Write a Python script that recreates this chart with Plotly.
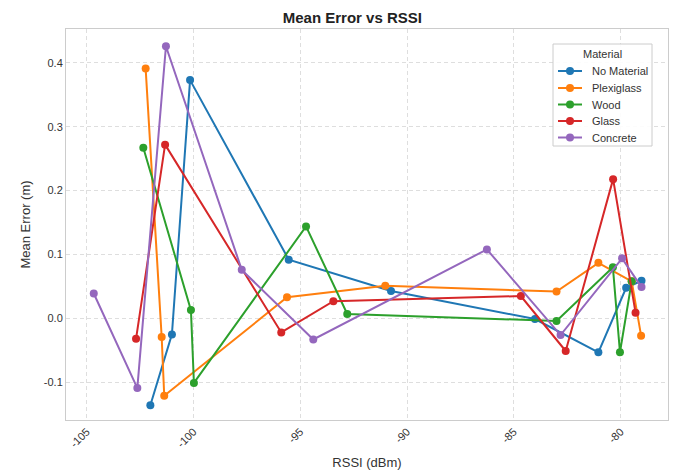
import plotly.graph_objects as go

materials = ["No Material", "Plexiglass", "Wood", "Glass", "Concrete"]
colors = ["#1f77b4", "#ff7f0e", "#2ca02c", "#d62728", "#9467bd"]

rssi_no_material = [-102.02, -101.01, -100.16, -95.54, -90.75, -84.01, -81.04, -79.74, -79.02]
err_no_material = [-0.136, -0.025, 0.373, 0.092, 0.043, -0.001, -0.053, 0.048, 0.059]

rssi_plexiglass = [-102.24, -101.49, -101.37, -95.62, -91.02, -83.00, -81.04, -79.48, -79.04]
err_plexiglass = [0.391, -0.029, -0.121, 0.033, 0.051, 0.042, 0.087, 0.058, -0.027]

rssi_wood = [-102.35, -100.12, -99.98, -94.73, -92.80, -83.00, -80.36, -80.03, -79.48]
err_wood = [0.267, 0.013, -0.101, 0.144, 0.007, -0.004, 0.080, -0.053, 0.058]

rssi_glass = [-102.69, -101.33, -95.89, -93.45, -84.67, -82.57, -80.35, -79.30]
err_glass = [-0.032, 0.272, -0.022, 0.027, 0.035, -0.051, 0.218, 0.009]

rssi_concrete = [-104.67, -102.63, -101.29, -97.74, -94.39, -86.26, -82.81, -79.93, -79.02]
err_concrete = [0.039, -0.109, 0.426, 0.076, -0.033, 0.108, -0.026, 0.094, 0.049]

x_ticks = [-105, -100, -95, -90, -85, -80]
y_ticks = [-0.1, 0.0, 0.1, 0.2, 0.3, 0.4]

series = [
    (rssi_no_material, err_no_material),
    (rssi_plexiglass, err_plexiglass),
    (rssi_wood, err_wood),
    (rssi_glass, err_glass),
    (rssi_concrete, err_concrete),
]

W, H = 675, 472
ML, MR, MT, MB = 66, 7, 29, 52
PW, PH = W - ML - MR, H - MT - MB


def px_x(px):
    return (px - ML) / PW


def px_y(py):
    return (H - MB - py) / PH


fig = go.Figure()
for name, color, (xs, ys) in zip(materials, colors, series):
    fig.add_trace(go.Scatter(
        x=xs, y=ys, mode="lines+markers", name=name,
        line=dict(color=color, width=2),
        marker=dict(color=color, size=8),
        showlegend=False,
    ))

font_family = "Liberation Sans, Arial, sans-serif"
axis_common = dict(
    showgrid=True, gridcolor="#dedede", griddash="4px,3px", gridwidth=1,
    showline=True, linecolor="#cccccc", linewidth=1, mirror=True,
    zeroline=False, ticks="", automargin=False,
    tickfont=dict(size=11, color="#333333", family=font_family),
)

# custom legend (compact, matplotlib-like)
shapes = [dict(type="rect", xref="paper", yref="paper",
               x0=px_x(553), x1=px_x(652), y0=px_y(146), y1=px_y(44),
               line=dict(color="#cccccc", width=1), fillcolor="rgba(255,255,255,0.9)", layer="above")]
annotations = [dict(text="Material", xref="paper", yref="paper", x=px_x(602.5), y=px_y(54),
                    xanchor="center", yanchor="middle", showarrow=False,
                    font=dict(size=11, color="#333333", family=font_family))]
item_y = [71, 88, 104.5, 121, 137.5]
for name, color, iy in zip(materials, colors, item_y):
    shapes.append(dict(type="line", xref="paper", yref="paper",
                       x0=px_x(558), x1=px_x(582), y0=px_y(iy), y1=px_y(iy),
                       line=dict(color=color, width=2), layer="above"))
    shapes.append(dict(type="circle", xref="paper", yref="paper",
                       xsizemode="pixel", ysizemode="pixel",
                       xanchor=px_x(570), yanchor=px_y(iy),
                       x0=-4, x1=4, y0=-4, y1=4,
                       line=dict(color=color, width=0), fillcolor=color, layer="above"))
    annotations.append(dict(text=name, xref="paper", yref="paper", x=px_x(590), y=px_y(iy),
                            xanchor="left", yanchor="middle", showarrow=False,
                            font=dict(size=11, color="#333333", family=font_family)))

fig.update_layout(
    width=W, height=H,
    margin=dict(l=ML, r=MR, t=MT, b=MB),
    paper_bgcolor="white", plot_bgcolor="white",
    font=dict(family=font_family, color="#222222"),
    title=dict(text="<b>Mean Error vs RSSI</b>", x=0.522, xanchor="center", y=0.962, yanchor="middle",
               font=dict(size=15, color="#222222", family=font_family)),
    xaxis=dict(range=[-105.97, -77.78], tickvals=x_ticks, ticktext=[str(v) for v in x_ticks],
               tickangle=-45,
               title=dict(text="RSSI (dBm)", font=dict(size=13, color="#333333"), standoff=9),
               **axis_common),
    yaxis=dict(range=[-0.159, 0.453], tickvals=y_ticks, ticktext=[f"{v:.1f}" for v in y_ticks],
               title=dict(text="Mean Error (m)", font=dict(size=13, color="#333333"), standoff=10),
               **axis_common),
    shapes=shapes,
    annotations=annotations,
    showlegend=False,
)

fig.write_html(
    "out.html",
    config={"displayModeBar": False},
    post_script="document.body.style.margin='0';document.body.style.overflow='hidden';",
)
